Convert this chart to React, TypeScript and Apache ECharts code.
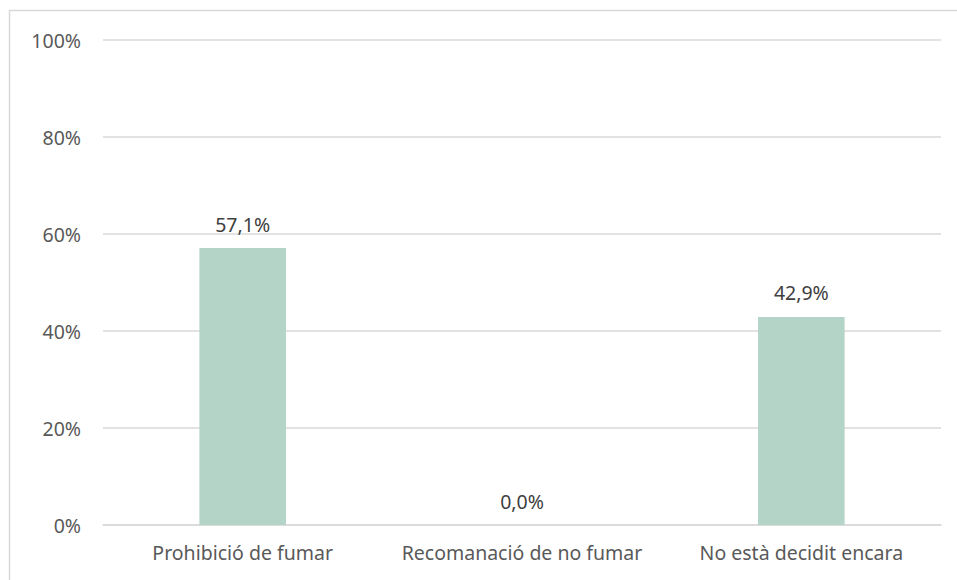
import React, { useEffect, useRef } from "react";
import * as echarts from "echarts";

const categories = ["Prohibició de fumar", "Recomanació de no fumar", "No està decidit encara"];
const values = [57.1, 0.0, 42.9];
const yTicks = [0, 20, 40, 60, 80, 100];

export default function App() {
  const ref = useRef<HTMLDivElement>(null);
  useEffect(() => {
    if (!ref.current) return;
    const chart = echarts.init(ref.current, undefined, { renderer: "svg" });
    const font = "'Noto Sans', 'Open Sans', sans-serif";
    chart.setOption({
      animation: false,
      backgroundColor: "#ffffff",
      graphic: [
        {
          type: "rect",
          shape: { x: 9.5, y: 10.5, width: 1000, height: 1000 },
          style: { fill: "none", stroke: "#d9d9d9", lineWidth: 1.5 },
          silent: true,
        },
      ],
      grid: { left: 103, right: 16, top: 40, bottom: 55, containLabel: false },
      xAxis: {
        type: "category",
        data: categories,
        axisTick: { show: false },
        axisLine: { show: true, lineStyle: { color: "#d9d9d9", width: 1.5 } },
        axisLabel: {
          color: "#595959",
          fontSize: 19.5,
          fontFamily: font,
          margin: 17,
          interval: 0,
          hideOverlap: false,
        },
      },
      yAxis: {
        type: "value",
        min: yTicks[0],
        max: yTicks[yTicks.length - 1],
        interval: 20,
        axisLine: { show: false },
        axisTick: { show: false },
        splitLine: { lineStyle: { color: "#d9d9d9", width: 1.5 } },
        axisLabel: {
          color: "#595959",
          fontSize: 19.5,
          fontFamily: font,
          margin: 22,
          formatter: (v: number) => `${v}%`,
        },
      },
      series: [
        {
          type: "bar",
          data: values,
          barWidth: "31%",
          itemStyle: { color: "#b5d4c8" },
          label: {
            show: true,
            position: "top",
            distance: 14,
            color: "#404040",
            fontSize: 19.5,
            fontFamily: font,
            formatter: (p: any) => `${Number(p.value).toFixed(1).replace(".", ",")}%`,
          },
        },
      ],
    });
    return () => chart.dispose();
  }, []);
  return (
    <div
      ref={ref}
      style={{ position: "fixed", left: 0, top: 0, width: 957, height: 580, background: "#fff" }}
    />
  );
}
